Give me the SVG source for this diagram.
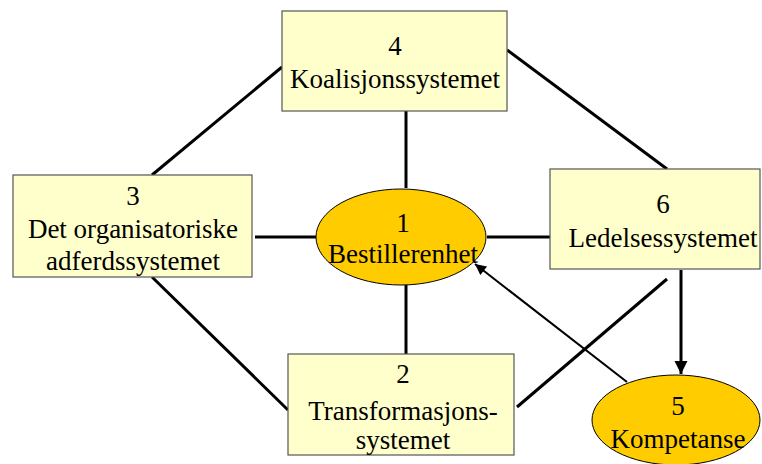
<svg xmlns="http://www.w3.org/2000/svg" width="762" height="464" viewBox="0 0 762 464">
  <defs>
    <style>
      .box { fill: #FFFFCC; stroke: #555555; stroke-width: 1.2; }
      .oval { fill: #FFCC00; stroke: #000000; stroke-width: 1; }
      .lbl { font-family: "Liberation Serif", "Times New Roman", serif; font-size: 27px; fill: #000000; text-anchor: middle; }
      .link { stroke: #000000; stroke-width: 3; fill: none; }
      .thin { stroke: #000000; stroke-width: 2; fill: none; }
    </style>
    <marker id="head" viewBox="0 0 10 10" refX="10" refY="5" markerWidth="4.5" markerHeight="4.5" markerUnits="strokeWidth" orient="auto">
      <path d="M0,0 L10,5 L0,10 z" fill="#000000"/>
    </marker>
    <marker id="headThin" viewBox="0 0 10 10" refX="10" refY="5" markerWidth="7.5" markerHeight="5.5" markerUnits="strokeWidth" orient="auto">
      <path d="M0,0 L10,5 L0,10 z" fill="#000000"/>
    </marker>
  </defs>
  <rect width="762" height="464" fill="#FFFFFF"/>

  <!-- connectors -->
  <g id="connectors">
    <line class="link" x1="282" y1="67" x2="152" y2="175"/>
    <line class="link" x1="507" y1="50" x2="667" y2="169"/>
    <line class="link" x1="406" y1="111" x2="406" y2="188"/>
    <line class="link" x1="255" y1="237" x2="316" y2="237"/>
    <line class="link" x1="487" y1="237" x2="550" y2="237"/>
    <line class="link" x1="406" y1="285" x2="406" y2="354"/>
    <line class="link" x1="152" y1="277" x2="288" y2="410"/>
    <line class="link" x1="517" y1="407" x2="667" y2="279"/>
    <line class="link" x1="681" y1="270" x2="681" y2="374" marker-end="url(#head)"/>
    <line class="thin" x1="627" y1="382" x2="475" y2="264" marker-end="url(#headThin)"/>
  </g>

  <!-- 4 Koalisjonssystemet -->
  <g id="node4">
    <rect class="box" x="282" y="11" width="225" height="100"/>
    <text class="lbl" x="395" y="55">4</text>
    <text class="lbl" x="395" y="88">Koalisjonssystemet</text>
  </g>

  <!-- 3 Det organisatoriske adferdssystemet -->
  <g id="node3">
    <rect class="box" x="13" y="175" width="239" height="102"/>
    <text class="lbl" x="133" y="205">3</text>
    <text class="lbl" x="133" y="238">Det organisatoriske</text>
    <text class="lbl" x="133" y="270">adferdssystemet</text>
  </g>

  <!-- 1 Bestillerenhet -->
  <g id="node1">
    <ellipse class="oval" cx="401" cy="237" rx="85" ry="48"/>
    <text class="lbl" x="403" y="232">1</text>
    <text class="lbl" x="403" y="263">Bestillerenhet</text>
  </g>

  <!-- 6 Ledelsessystemet -->
  <g id="node6">
    <rect class="box" x="550" y="169" width="210" height="100"/>
    <text class="lbl" x="663" y="213">6</text>
    <text class="lbl" x="663" y="247">Ledelsessystemet</text>
  </g>

  <!-- 2 Transformasjonssystemet -->
  <g id="node2">
    <rect class="box" x="288" y="354" width="226" height="101"/>
    <text class="lbl" x="403" y="383">2</text>
    <text class="lbl" x="403" y="420">Transformasjons-</text>
    <text class="lbl" x="403" y="449">systemet</text>
  </g>

  <!-- 5 Kompetanse -->
  <g id="node5">
    <ellipse class="oval" cx="676" cy="420" rx="84" ry="45"/>
    <text class="lbl" x="678" y="415">5</text>
    <text class="lbl" x="678" y="448">Kompetanse</text>
  </g>
</svg>
